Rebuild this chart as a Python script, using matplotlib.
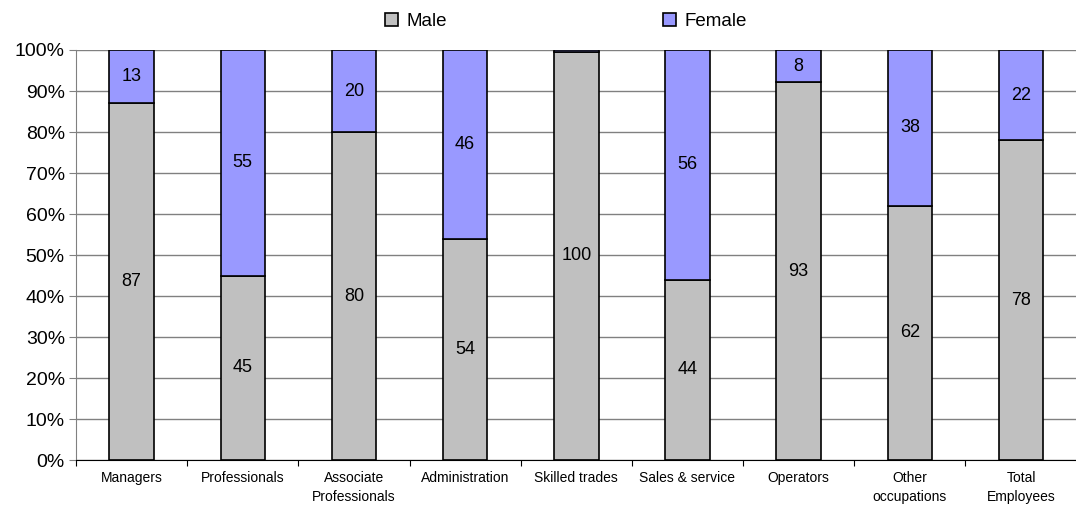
import numpy as np
import matplotlib.pyplot as plt
from matplotlib.ticker import FixedLocator, PercentFormatter

plt.rcParams['font.family'] = ['Liberation Sans', 'DejaVu Sans']

categories = ['Managers', 'Professionals', 'Associate\nProfessionals', 'Administration',
              'Skilled trades', 'Sales & service', 'Operators', 'Other\noccupations',
              'Total\nEmployees']
male = [87, 45, 80, 54, 99.6, 44, 93, 62, 78]
female = [13, 55, 20, 46, 0.4, 56, 8, 38, 22]

x = np.arange(len(categories))
male = np.array(male, dtype=float)
female = np.array(female, dtype=float)
tot = male + female
male_pct = male / tot * 100
female_pct = female / tot * 100

fig = plt.figure(figsize=(10.76, 5.05), dpi=100)
ax = fig.add_axes([0.0706, 0.089, 0.93, 0.812])

ax.grid(axis='y', color='#808080', linewidth=1)
ax.set_axisbelow(True)

b1 = ax.bar(x, male_pct, width=0.4, color='#C0C0C0', edgecolor='black', linewidth=1.2, label='Male')
b2 = ax.bar(x, female_pct, width=0.4, bottom=male_pct, color='#9999FF', edgecolor='black', linewidth=1.2, label='Female')

# value labels in the middle of each segment
for i in range(len(x)):
    ax.text(x[i], male_pct[i] / 2, f'{male[i]:.0f}', ha='center', va='center', fontsize=13)
    if female[i] >= 1:
        ax.text(x[i], male_pct[i] + female_pct[i] / 2, f'{female[i]:.0f}', ha='center', va='center', fontsize=13)

ax.set_xlim(-0.5, len(x) - 0.5)
ax.set_ylim(0, 100)
ax.set_yticks(np.arange(0, 101, 10))
ax.yaxis.set_major_formatter(PercentFormatter(decimals=0))
ax.tick_params(axis='y', labelsize=14, length=5, color='#808080', pad=3)

ax.xaxis.set_major_locator(FixedLocator(np.arange(-0.5, len(x), 1)))
ax.xaxis.set_minor_locator(FixedLocator(x))
ax.xaxis.set_major_formatter(plt.NullFormatter())
ax.set_xticklabels(categories, minor=True, linespacing=1.45)
ax.tick_params(axis='x', which='major', length=4, color='black')
ax.tick_params(axis='x', which='minor', length=0, labelsize=10, pad=8)

for s in ['top', 'right']:
    ax.spines[s].set_visible(False)
ax.spines['left'].set_color('#808080')
ax.spines['bottom'].set_color('black')

fig.legend(handles=[b1, b2], loc='upper center', bbox_to_anchor=(0.526, 1.008), ncol=2,
           frameon=False, fontsize=13.5, columnspacing=11.5, handlelength=0.7, handleheight=0.7,
           handletextpad=0.45)

plt.savefig('out.png', dpi=100)
